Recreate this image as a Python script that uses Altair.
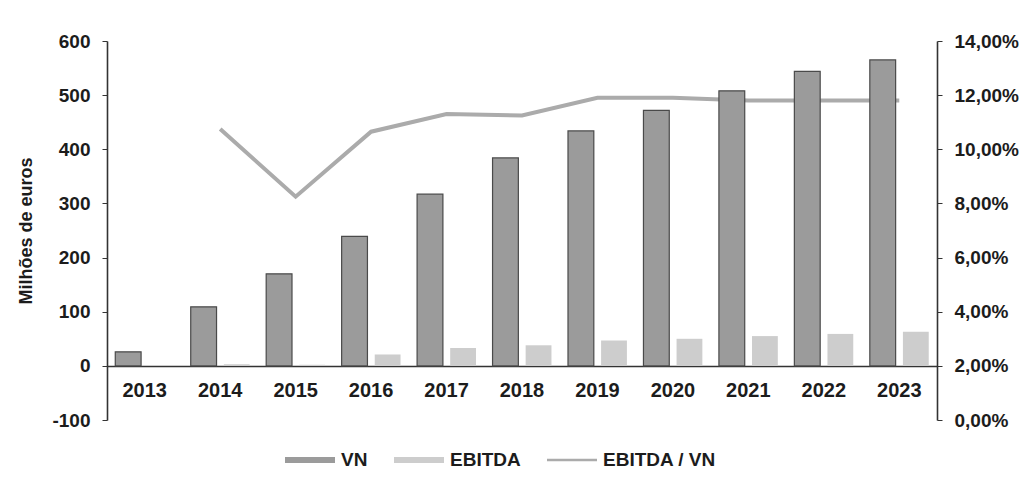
import altair as alt
import pandas as pd

# Values in millions of euros
years = ["2013", "2014", "2015", "2016", "2017", "2018", "2019", "2020", "2021", "2022", "2023"]
vn = [26, 109, 170, 239, 317, 384, 434, 472, 508, 544, 565]
ebitda = [0, 3, 2, 21, 33, 38, 47, 50, 55, 59, 63]

# EBITDA margin (EBITDA / VN), from 2014 onwards
ratio_years = ["2014", "2015", "2016", "2017", "2018", "2019", "2020", "2021", "2022", "2023"]
ratio = [0.1075, 0.0825, 0.1065, 0.113, 0.1125, 0.119, 0.119, 0.118, 0.118, 0.118]

series_names = ["VN", "EBITDA", "EBITDA / VN"]
series_colors = ["#9b9b9b", "#cdcdcd", "#ababab"]
# legend keys: wide bars for the two bar series, a thin stroke for the ratio
series_keys = ["M-1,-0.12H1V0.12H-1Z", "M-1,-0.12H1V0.12H-1Z", "M-1,-0.05H1V0.05H-1Z"]

bars_df = pd.DataFrame(
    [{"ano": y, "serie": "VN", "valor": v} for y, v in zip(years, vn)]
    + [{"ano": y, "serie": "EBITDA", "valor": v} for y, v in zip(years, ebitda)]
)
line_df = pd.DataFrame({"ano": ratio_years, "rácio": ratio, "serie": "EBITDA / VN"})

FONT = "Liberation Sans"
TXT = "#1c1c1c"

x_enc = alt.X(
    "ano:N",
    sort=years,
    scale=alt.Scale(paddingInner=0, paddingOuter=0),
    axis=alt.Axis(
        title=None,
        orient="bottom",
        offset=-54,
        ticks=False,
        labelAngle=0,
        labelPadding=14,
        labelFontSize=20,
        labelFont=FONT,
        labelFontWeight="bold",
        labelColor=TXT,
        domainColor="#333333",
        domainWidth=1.6,
    ),
)

color_scale = alt.Scale(domain=series_names, range=series_colors)
shape_scale = alt.Scale(domain=series_names, range=series_keys)

legend = alt.Legend(
    title=None,
    orient="none",
    direction="horizontal",
    legendX=178,
    legendY=394,
    symbolSize=2500,
    symbolOpacity=1,
    symbolStrokeWidth=0,
    labelFontSize=19,
    labelFont=FONT,
    labelFontWeight="bold",
    labelColor=TXT,
    labelOffset=6,
    columnPadding=26,
)

y_left = alt.Y(
    "valor:Q",
    scale=alt.Scale(domain=[-100, 600]),
    axis=alt.Axis(
        title="Milhões de euros",
        orient="left",
        values=[-100, 0, 100, 200, 300, 400, 500, 600],
        labelExpr="datum.value + ''",
        grid=False,
        tickSize=5,
        tickColor="#333333",
        labelPadding=12,
        labelFontSize=19,
        labelFont=FONT,
        labelFontWeight="bold",
        labelColor=TXT,
        titleFontSize=18,
        titleFont=FONT,
        titleFontWeight="bold",
        titleColor=TXT,
        titlePadding=16,
        domainColor="#333333",
        domainWidth=1.6,
    ),
)

line = (
    alt.Chart(line_df)
    .mark_line(strokeWidth=4)
    .encode(
        x=x_enc,
        y=alt.Y(
            "rácio:Q",
            scale=alt.Scale(domain=[0, 0.14]),
            axis=alt.Axis(
                title=None,
                orient="right",
                values=[0, 0.02, 0.04, 0.06, 0.08, 0.10, 0.12, 0.14],
                labelExpr="replace(format(datum.value, '.2%'), '.', ',')",
                grid=False,
                tickSize=5,
                tickColor="#333333",
                labelPadding=12,
                labelFontSize=19,
                labelFont=FONT,
                labelFontWeight="bold",
                labelColor=TXT,
                domainColor="#333333",
                domainWidth=1.6,
            ),
        ),
        color=alt.Color("serie:N", scale=color_scale, legend=legend),
    )
)

bars = (
    alt.Chart(bars_df)
    .mark_bar(strokeWidth=1.2)
    .encode(
        x=x_enc,
        xOffset=alt.XOffset(
            "serie:N", sort=["VN", "EBITDA"],
            scale=alt.Scale(paddingInner=0.22, paddingOuter=0.25),
        ),
        y=y_left,
        color=alt.Color("serie:N", scale=color_scale, legend=legend),
        stroke=alt.condition(alt.datum.serie == "VN", alt.value("#4a4a4a"), alt.value("transparent")),
    )
)

# invisible points that carry the legend key shapes
keys = (
    alt.Chart(bars_df)
    .mark_point(filled=True, opacity=0)
    .encode(
        x=x_enc,
        y=y_left,
        color=alt.Color("serie:N", scale=color_scale, legend=legend),
        shape=alt.Shape("serie:N", scale=shape_scale, legend=legend),
    )
)

chart = (
    alt.layer(line, alt.layer(bars, keys))
    .resolve_scale(y="independent")
    .properties(
        width=830,
        height=379,
        padding={"left": 107, "top": 41, "right": 98, "bottom": 61},
        autosize=alt.AutoSizeParams(type="none"),
        background="white",
    )
    .configure_view(stroke=None)
)

chart.save("out.html", embed_options={"renderer": "svg", "actions": False})
